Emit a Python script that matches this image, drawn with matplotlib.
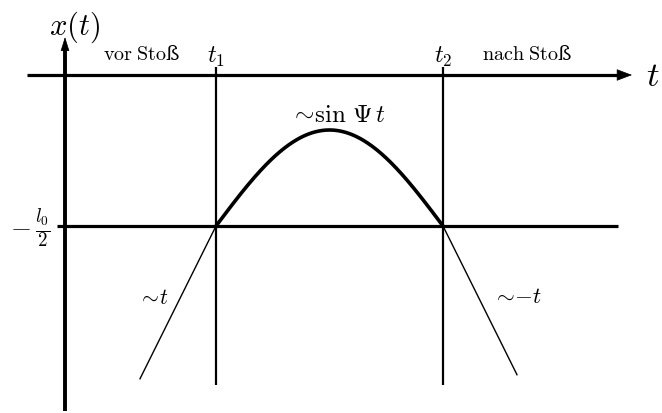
import matplotlib
matplotlib.use("Agg")
import matplotlib.pyplot as plt
import numpy as np

plt.rcParams['mathtext.fontset'] = 'cm'
plt.rcParams['font.family'] = ['DejaVu Serif']

# schematic units: t measured from the x(t) axis, x measured from the t axis
t_start = -38         # left end of the t axis
t_end = 567           # arrow tip of the t axis
x_top = 38            # arrow tip of the x axis
x_bottom = -336       # lower end of the x axis
t1 = 151              # start of the collision
t2 = 378              # end of the collision
half_l0 = 151         # depth of the -l0/2 line
amp = 96              # height of the sine arc above -l0/2
t_before = 75         # where the ~t line starts
t_after = 452         # where the ~-t line ends
slope = 2.01          # |dx/dt| of the straight pieces
marker_top = 8        # top of the t1/t2 markers
marker_bottom = -310  # bottom of the t1/t2 markers
base_left = -8
base_right = 553

fig = plt.figure(figsize=(6.62, 4.14), dpi=100)
ax = fig.add_axes([0, 0, 1, 1])
ax.set_xlim(-65, 597)
ax.set_ylim(-338, 76)
ax.axis('off')

# axes with arrow heads
ax.plot([t_start, t_end - 12], [0, 0], color='black', lw=2.3, solid_capstyle='butt')
ax.annotate('', xy=(t_end, 0), xytext=(t_end - 16, 0),
            arrowprops=dict(arrowstyle='-|>,head_length=1.0,head_width=0.38',
                            color='black', lw=0.5, shrinkA=0, shrinkB=0))
ax.plot([0, 0], [x_bottom, x_top - 12], color='black', lw=2.8, solid_capstyle='butt')
ax.annotate('', xy=(0, x_top), xytext=(0, x_top - 14),
            arrowprops=dict(arrowstyle='-|>,head_length=0.9,head_width=0.28',
                            color='black', lw=0.5, shrinkA=0, shrinkB=0))

# -l0/2 level and collision times
ax.plot([base_left, base_right], [-half_l0, -half_l0], color='black', lw=2.3,
        solid_capstyle='butt')
for tc in (t1, t2):
    ax.plot([tc, tc], [marker_bottom, marker_top], color='black', lw=1.6,
            solid_capstyle='butt')

# motion during the collision
tt = np.linspace(t1, t2, 200)
ax.plot(tt, -half_l0 + amp * np.sin(np.pi * (tt - t1) / (t2 - t1)),
        color='black', lw=2.6)

# free motion before and after
ax.plot([t_before, t1], [-half_l0 - slope * (t1 - t_before), -half_l0],
        color='black', lw=1.0)
ax.plot([t2, t_after], [-half_l0, -half_l0 - slope * (t_after - t2)],
        color='black', lw=1.0)

# labels
ax.text(10, 49, r'$x(t)$', fontsize=22, ha='center', va='center')
ax.text(t_end + 21, 0, r'$t$', fontsize=25, ha='center', va='center')
ax.text(77, 21, r'$\mathrm{vor\;Sto}$ß', fontsize=14.5, ha='center', va='center')
ax.text(t1, 19, r'$t_1$', fontsize=17.5, ha='center', va='center')
ax.text(t2, 19, r'$t_2$', fontsize=17.5, ha='center', va='center')
ax.text(462, 21, r'$\mathrm{nach\;Sto}$ß', fontsize=14.5, ha='center', va='center')
ax.text(273, -39, r'$\sim\!\sin\,\Psi\,t$', fontsize=18, ha='center', va='center')
ax.text(-35, -152, r'$-\,\frac{l_0}{2}$', fontsize=19.5, ha='center', va='center')
ax.text(88, -222, r'$\sim\!t$', fontsize=15.5, ha='center', va='center')
ax.text(452, -221, r'$\sim\!{-}t$', fontsize=16.5, ha='center', va='center')

fig.savefig('out.png', dpi=100)
